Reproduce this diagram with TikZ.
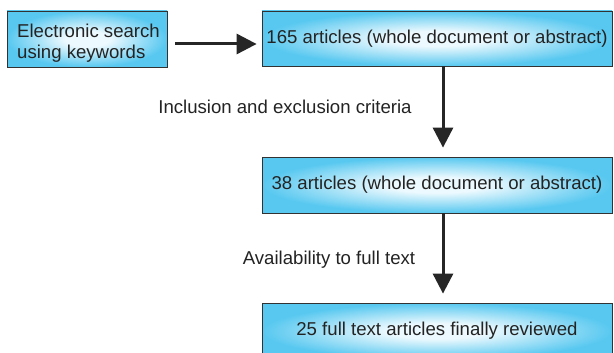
\documentclass[tikz,border=0pt]{standalone}
\usepackage{fontspec}
\setmainfont{Liberation Sans}
\usetikzlibrary{arrows.meta}
\definecolor{boxin}{RGB}{236,249,254}
\definecolor{boxout}{RGB}{88,200,240}
\definecolor{boxline}{RGB}{50,50,50}
\definecolor{txt}{RGB}{35,35,35}
\pgfdeclareradialshading{boxshade}{\pgfpoint{0bp}{0bp}}{color(0bp)=(boxin); color(7bp)=(boxin); color(25bp)=(boxout); color(50bp)=(boxout)}
\tikzset{
  box/.style={draw=boxline, line width=0.8pt, shading=boxshade, rectangle, inner sep=0pt, text=txt, font=\fontsize{18.6}{21}\selectfont},
  conn/.style={line width=3pt, draw=black!85, -{Triangle[length=20pt,width=20pt]}},
  lab/.style={text=txt, font=\fontsize{18.6}{21}\selectfont, inner sep=0pt}
}
\begin{document}
\begin{tikzpicture}[x=1pt,y=-1pt]
\clip (0,0) rectangle (614,353);
\fill[white] (0,0) rectangle (614,353);
\node[box, minimum width=160pt, minimum height=56pt] (b1) at (87,39) {\hspace*{3pt}\raisebox{-5pt}[\height][\depth]{\begin{tabular}{@{}l@{}}Electronic search\\[0pt]using keywords\end{tabular}}};
\node[box, minimum width=350pt, minimum height=55pt] (b2) at (437,38.5) {165 articles (whole document or abstract)};
\node[box, minimum width=350pt, minimum height=56pt] (b3) at (437,185) {38 articles (whole document or abstract)};
\node[box, minimum width=350pt, minimum height=56pt] (b4) at (437,331) {25 full text articles finally reviewed};
\draw[conn, shorten <=8pt, shorten >=5pt] ([yshift=-5pt]b1.east) -- ([yshift=-5.5pt]b2.west);
\draw[conn, shorten >=9pt] ([xshift=6pt]b2.south) -- ([xshift=6pt]b3.north);
\draw[conn, shorten >=9pt] ([xshift=6pt]b3.south) -- ([xshift=6pt]b4.north);
\node[lab] (l1) at (285,107) {Inclusion and exclusion criteria};
\node[lab] (l2) at (329,260) {Availability to full text};
\end{tikzpicture}
\end{document}
